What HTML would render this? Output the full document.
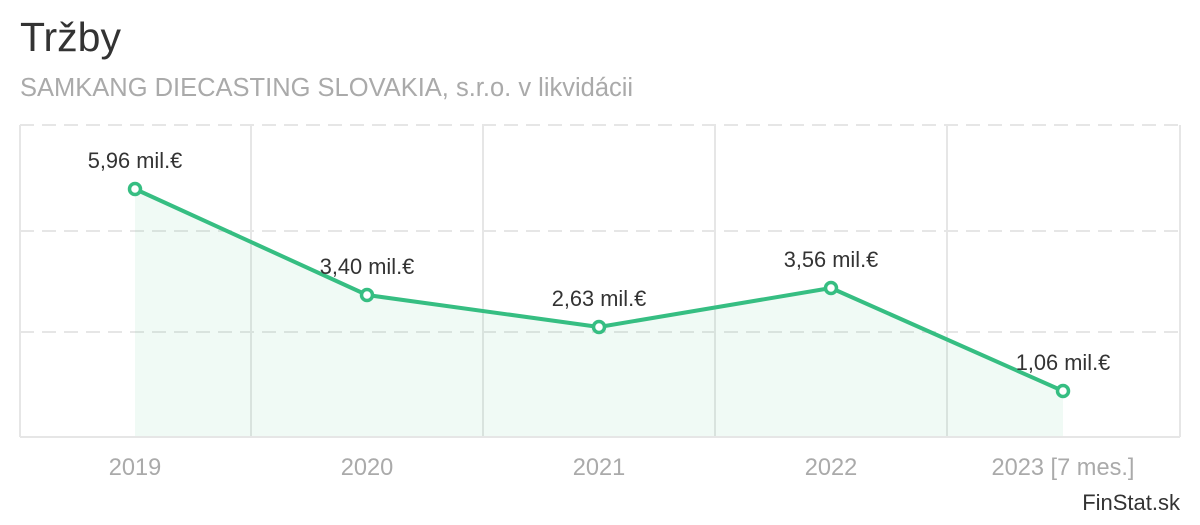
<!DOCTYPE html>
<html><head><meta charset="utf-8"><style>
body{margin:0;background:#fff;width:1200px;height:520px;overflow:hidden;font-family:"Liberation Sans",sans-serif}
</style></head><body>
<svg width="1200" height="520" xmlns="http://www.w3.org/2000/svg" font-family="Liberation Sans, sans-serif">
<text x="20" y="51" font-size="41" fill="#333">Tržby</text>
<text x="20" y="96" font-size="25.5" fill="#aaa">SAMKANG DIECASTING SLOVAKIA, s.r.o. v likvidácii</text>
<g stroke="#e6e6e6" stroke-width="2">
<line x1="20" y1="125" x2="1180" y2="125" stroke-dasharray="14,8"/>
<line x1="20" y1="231" x2="1180" y2="231" stroke-dasharray="14,8"/>
<line x1="20" y1="332" x2="1180" y2="332" stroke-dasharray="14,8"/>
<line x1="20" y1="125" x2="20" y2="437"/>
<line x1="251" y1="125" x2="251" y2="437"/>
<line x1="483" y1="125" x2="483" y2="437"/>
<line x1="715" y1="125" x2="715" y2="437"/>
<line x1="947" y1="125" x2="947" y2="437"/>
<line x1="1180" y1="125" x2="1180" y2="437"/>
<line x1="20" y1="437" x2="1180" y2="437"/>
</g>
<polygon points="135,189 367,295 599,327 831,288 1063,391 1063,436 135,436" fill="#3cbf84" fill-opacity="0.08"/>
<polyline points="135,189 367,295 599,327 831,288 1063,391" fill="none" stroke="#36be82" stroke-width="4" stroke-linejoin="round"/>
<g fill="#fff" stroke="#36be82" stroke-width="3.5">
<circle cx="135" cy="189" r="5.5"/><circle cx="367" cy="295" r="5.5"/><circle cx="599" cy="327" r="5.5"/><circle cx="831" cy="288" r="5.5"/><circle cx="1063" cy="391" r="5.5"/>
</g>
<g font-size="21.8" fill="#333" text-anchor="middle">
<text x="135" y="168">5,96 mil.€</text>
<text x="367" y="274">3,40 mil.€</text>
<text x="599" y="306">2,63 mil.€</text>
<text x="831" y="267">3,56 mil.€</text>
<text x="1063" y="370">1,06 mil.€</text>
</g>
<g font-size="23.6" fill="#aaa" text-anchor="middle">
<text x="135" y="475">2019</text>
<text x="367" y="475">2020</text>
<text x="599" y="475">2021</text>
<text x="831" y="475">2022</text>
<text x="1063" y="475">2023 [7 mes.]</text>
</g>
<text x="1180" y="510" font-size="22" fill="#333" text-anchor="end">FinStat.sk</text>
</svg>
</body></html>
